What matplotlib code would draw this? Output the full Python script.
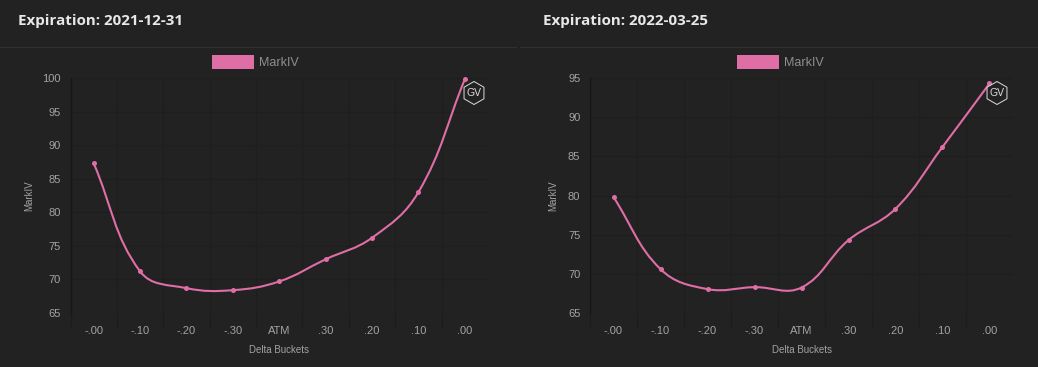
import matplotlib
matplotlib.use("Agg")
import matplotlib.pyplot as plt
import numpy as np
from matplotlib.patches import Rectangle, RegularPolygon, PathPatch
from matplotlib.path import Path
from matplotlib.transforms import IdentityTransform, blended_transform_factory

W, H = 1038, 367
BG = "#222222"
PINK = "#e06ea6"

buckets = ["-.00", "-.10", "-.20", "-.30", "ATM", ".30", ".20", ".10", ".00"]
titles = ["Expiration: 2021-12-31", "Expiration: 2022-03-25"]
iv_2021 = [87.3, 71.2, 68.7, 68.4, 69.7, 73.0, 76.2, 83.0, 99.8]
iv_2022 = [79.8, 70.6, 68.05, 68.3, 68.25, 74.3, 78.3, 86.2, 94.3]
yticks_2021 = [65, 70, 75, 80, 85, 90, 95, 100]
yticks_2022 = [65, 70, 75, 80, 85, 90, 95]


def spline_path(pts, t=0.4):
    # same control points as a chart.js tension curve
    verts = [pts[0]]
    codes = [Path.MOVETO]
    cp_in, cp_out = [], []
    for i, p in enumerate(pts):
        prev = pts[max(i - 1, 0)]
        nxt = pts[min(i + 1, len(pts) - 1)]
        d1 = np.hypot(*(p - prev))
        d2 = np.hypot(*(nxt - p))
        cp_in.append(p - t * d1 / (d1 + d2) * (nxt - prev))
        cp_out.append(p + t * d2 / (d1 + d2) * (nxt - prev))
    for i in range(len(pts) - 1):
        verts += [cp_out[i], cp_in[i + 1], pts[i + 1]]
        codes += [Path.CURVE4] * 3
    return Path(verts, codes)


def draw_panel(fig, box, title, title_x, values, yticks, legend_x, gv_x, ylabel_x):
    left, right, top, bottom = box
    ax = fig.add_axes([left / W, 1 - bottom / H, (right - left) / W, (bottom - top) / H])
    ax.set_facecolor(BG)
    x = np.arange(len(buckets))
    ax.set_xlim(-0.5, len(buckets) - 0.5)
    ax.set_ylim(yticks[0], yticks[-1])

    for s in ax.spines.values():
        s.set_visible(False)

    ax.set_yticks(yticks)
    ax.set_xticks(x - 0.5, minor=False)
    ax.set_xticks(x, buckets, minor=True)
    ax.tick_params(axis="x", which="major", length=10, color="#1c1c1c", labelbottom=False, width=0.8)
    ax.tick_params(axis="x", which="minor", length=0, pad=9, labelsize=8, labelcolor="#a3a3a3")
    ax.tick_params(axis="y", length=0, pad=7, labelsize=8, labelcolor="#a3a3a3")
    ax.grid(True, which="major", axis="both", color="#1e1e1e", linewidth=0.8)
    ax.set_axisbelow(True)
    ax.set_xlim(-0.5, len(buckets) - 0.5)
    # y axis line is a bit darker than the grid
    ax.plot([-0.5, -0.5], [yticks[0], yticks[-1]], color="#161616", lw=0.9, clip_on=False, zorder=1)

    pts = ax.transData.transform(np.column_stack([x, values]))
    ax.add_patch(PathPatch(spline_path(pts), transform=IdentityTransform(), fill=False,
                           edgecolor=PINK, linewidth=1.5, clip_on=False, zorder=3))
    ax.plot(x, values, ls="none", marker="o", ms=3.6, mew=0, color=PINK, clip_on=False, zorder=4)

    ax.set_xlabel("Delta Buckets", fontsize=7, color="#a3a3a3")
    ax.xaxis.set_label_coords(0.5, 1 - 350 / H, transform=blended_transform_factory(ax.transAxes, fig.transFigure))
    ax.xaxis.label.set_va("center")
    ax.set_ylabel("MarkIV", fontsize=7, color="#a3a3a3")
    ax.yaxis.set_label_coords(ylabel_x / W, 0.5, transform=blended_transform_factory(fig.transFigure, ax.transAxes))
    ax.yaxis.label.set_va("center")

    # header, legend and watermark sit on a pixel overlay
    ov = fig.add_axes([0, 0, 1, 1], label=title, facecolor="none")
    ov.set_xlim(0, W)
    ov.set_ylim(H, 0)
    ov.axis("off")
    ov.text(title_x, 20.5, title, fontsize=10.9, fontweight="bold", family=["Open Sans", "DejaVu Sans"],
            color="#e8e8e8", va="center", ha="left")
    ov.add_patch(Rectangle((legend_x, 55), 42, 14, facecolor=PINK, edgecolor="none"))
    ov.text(legend_x + 47, 62.5, "MarkIV", fontsize=9, color="#8f8f8f", va="center", ha="left")
    ov.add_patch(RegularPolygon((gv_x, 93), 6, radius=11.5, facecolor=BG, edgecolor="#dcdcdc", linewidth=0.7, zorder=6))
    ov.text(gv_x, 93.2, "GV", fontsize=7.5, color="#dcdcdc", ha="center", va="center", zorder=7)


plt.rcParams["font.family"] = ["Liberation Sans", "DejaVu Sans"]
fig = plt.figure(figsize=(W / 100, H / 100), dpi=100, facecolor=BG)

draw_panel(fig, (70.5, 488, 78, 313), titles[0], 18, iv_2021, yticks_2021, 212, 474, 29)
draw_panel(fig, (590, 1013, 78, 313), titles[1], 543, iv_2022, yticks_2022, 737, 997, 553)

ov = fig.add_axes([0, 0, 1, 1], facecolor="none")
ov.set_xlim(0, W)
ov.set_ylim(H, 0)
ov.axis("off")
ov.plot([0, 516], [46.5, 46.5], color="#303030", lw=0.8)
ov.plot([520, W], [46.5, 46.5], color="#303030", lw=0.8)

fig.savefig("out.png", dpi=100, facecolor=BG)
